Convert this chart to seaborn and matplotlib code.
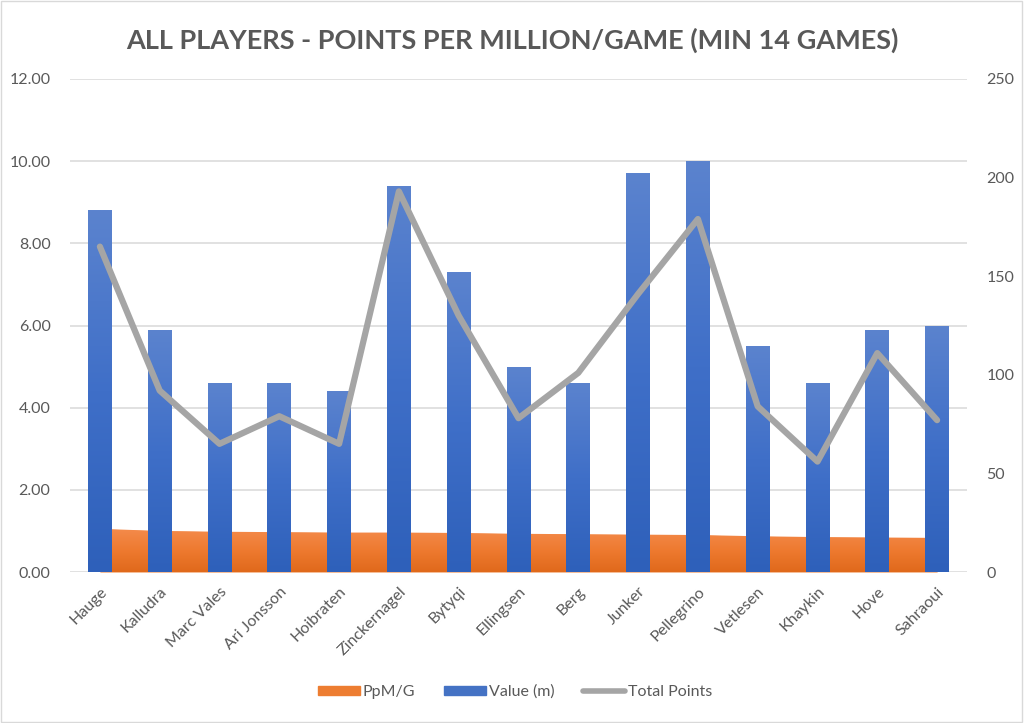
import numpy as np
import pandas as pd
import matplotlib
matplotlib.use("Agg")
import matplotlib.pyplot as plt
import seaborn as sns
from matplotlib.colors import LinearSegmentedColormap
from matplotlib.patches import Patch, Rectangle
from matplotlib.lines import Line2D
from matplotlib.ticker import FormatStrFormatter

# data
players = ["Hauge", "Kalludra", "Marc Vales", "Ari Jonsson", "Hoibraten",
           "Zinckernagel", "Bytyqi", "Ellingsen", "Berg", "Junker",
           "Pellegrino", "Vetlesen", "Khaykin", "Hove", "Sahraoui"]
value_m = [8.8, 5.9, 4.6, 4.6, 4.4, 9.4, 7.3, 5.0, 4.6, 9.7, 10.0, 5.5, 4.6, 5.9, 6.0]
ppm_g = [1.05, 1.00, 0.98, 0.97, 0.96, 0.96, 0.95, 0.93, 0.92, 0.91, 0.90, 0.87, 0.85, 0.84, 0.83]
total_points = [165, 92, 65, 79, 65, 193, 130, 78, 101, 141, 179, 84, 56, 111, 77]

df = pd.DataFrame({"player": players, "value": value_m, "ppm": ppm_g, "points": total_points})
df["pos"] = np.arange(len(df))

sns.set_theme(style="white")
plt.rcParams["font.family"] = ["Lato", "DejaVu Sans"]
txt = "#595959"
grid_c = "#D9D9D9"

fig = plt.figure(figsize=(10.24, 7.23), dpi=100)
ax = fig.add_axes([70 / 1024, 1 - 572 / 723, 897 / 1024, 493 / 723])

# orange area (PpM/G) behind the bars
area = ax.fill_between(df["pos"], 0, df["ppm"], color="#ED7D31", lw=0, zorder=2)

# blue bars (Value (m))
sns.barplot(data=df, x="player", y="value", color="#4472C4", width=0.4,
            saturation=1, linewidth=0, ax=ax, zorder=3)

# gradients, clipped to the shapes
blue_cm = LinearSegmentedColormap.from_list("b", ["#2E60BA", "#3F6FC8", "#5B83CE"])
orange_cm = LinearSegmentedColormap.from_list("o", ["#E0691B", "#EE7A30", "#F48B4C"])
grad = np.linspace(0, 1, 256).reshape(-1, 1)
for p in ax.patches:
    x0, w, h = p.get_x(), p.get_width(), p.get_height()
    im = ax.imshow(grad, extent=[x0, x0 + w, 0, h], origin="lower", aspect="auto",
                   cmap=blue_cm, zorder=3.5)
    im.set_clip_path(p)
im = ax.imshow(grad, extent=[0, len(df) - 1, 0, max(ppm_g)], origin="lower",
               aspect="auto", cmap=orange_cm, zorder=2.5)
im.set_clip_path(area.get_paths()[0], transform=ax.transData)

ax.set_xlim(-0.5, len(df) - 0.5)
ax.set_ylim(0, 12)
ax.set_yticks(np.arange(0, 13, 2))
ax.yaxis.set_major_formatter(FormatStrFormatter("%.2f"))
ax.grid(axis="y", color=grid_c, lw=1.1, zorder=0)
ax.set_axisbelow(True)
ax.set_xlabel("")
ax.set_ylabel("")
for s in ax.spines.values():
    s.set_visible(False)
ax.tick_params(axis="y", length=0, pad=14, labelsize=11.5, labelcolor=txt)
ax.tick_params(axis="x", length=0, pad=9, labelsize=11.5, labelcolor=txt)
plt.setp(ax.get_xticklabels(), rotation=45, ha="right", rotation_mode="anchor")

# gray line (Total Points) on the right axis
ax2 = ax.twinx()
sns.lineplot(data=df, x="pos", y="points", color="#A5A5A5", lw=4.5, ax=ax2, zorder=5)
ax2.set_ylim(0, 250)
ax2.set_yticks(np.arange(0, 251, 50))
ax2.set_xlim(-0.5, len(df) - 0.5)
ax2.set_ylabel("")
for s in ax2.spines.values():
    s.set_visible(False)
ax2.tick_params(axis="y", length=0, pad=14, labelsize=11.5, labelcolor=txt)

fig.text(0.5, 1 - 40 / 723, "ALL PLAYERS - POINTS PER MILLION/GAME (MIN 14 GAMES)",
         ha="center", va="center", fontsize=19.5, fontweight="bold", color=txt)

handles = [Patch(color="#ED7D31"), Patch(color="#4472C4"),
           Line2D([], [], color="#A5A5A5", lw=4)]
fig.legend(handles, ["PpM/G", "Value (m)", "Total Points"], loc="center",
           bbox_to_anchor=(0.503, 1 - 692 / 723), ncol=3, frameon=False,
           fontsize=11.5, labelcolor=txt, handlelength=2.6, handleheight=0.5,
           columnspacing=1.8, handletextpad=0.2)

fig.patches.append(Rectangle((0.001, 0.001), 0.997, 0.997, transform=fig.transFigure,
                             fill=False, edgecolor=grid_c, lw=1))

fig.savefig("out.png", dpi=100)
